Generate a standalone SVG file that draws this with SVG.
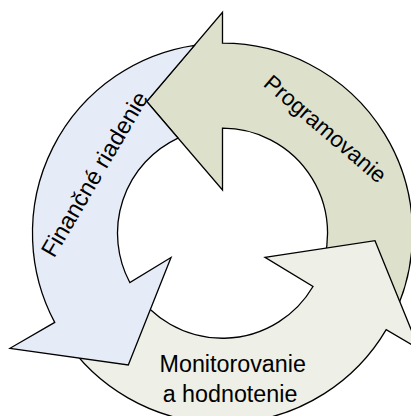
<svg xmlns="http://www.w3.org/2000/svg" width="411" height="416" viewBox="0 0 411 416">
<style>
.arrow{stroke:#000;stroke-width:1.3;stroke-linejoin:miter}
.lbl{font-family:"Liberation Sans",Arial,sans-serif;fill:#000}
</style>
<rect width="411" height="416" fill="#fff"/>
<g id="programovanie">
<path class="arrow" fill="#DDE0CB" d="M391.8,319.5 A190,190 0 0 0 222.5,43.2 L222.5,12.3 L146.7,101.5 L222.5,190 L222.5,128.2 A105,105 0 0 1 316.1,280.9 Z"/>
<text class="lbl" font-size="22.5" text-anchor="middle" transform="translate(320.3,134.7) rotate(40.5)">Programovanie</text>
</g>
<g id="monitorovanie">
<path class="arrow" fill="#EEEFE6" d="M63.2,336.7 A190,190 0 0 0 386.2,329.6 L419,348.9 L375,240.7 L265,257.3 L313,286.5 A105,105 0 0 1 134.4,290.4 Z"/>
<text class="lbl" font-size="23.3" text-anchor="middle" x="232.7" y="371.7">Monitorovanie</text>
<text class="lbl" font-size="23.3" text-anchor="middle" x="230" y="401.7">a hodnotenie</text>
</g>
<g id="financne">
<path class="arrow" fill="#E6ECF7" d="M194.5,45.3 L146.7,101.5 L178,138.1 A105,105 0 0 0 129.8,282.5 L171,257.5 L128.3,365 L10,348.3 L54.7,322.4 A190,190 0 0 1 194.5,45.3 Z"/>
<text class="lbl" font-size="23.5" text-anchor="middle" transform="translate(101.4,178.3) rotate(-59.5)">Finančné riadenie</text>
</g>
<g id="connectors"/>
</svg>
